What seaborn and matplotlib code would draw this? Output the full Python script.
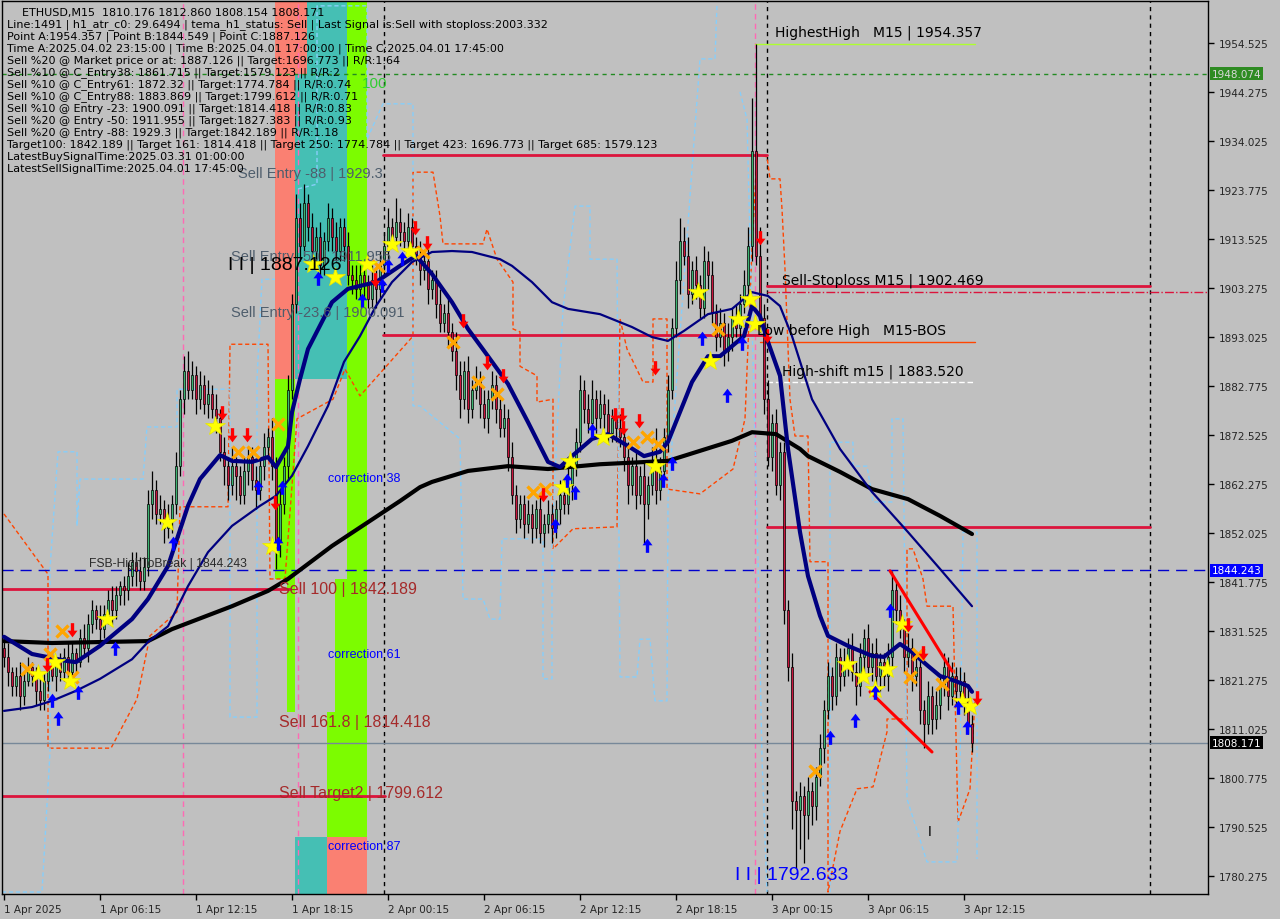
import numpy as np
import pandas as pd
import matplotlib
matplotlib.use("Agg")
import matplotlib.pyplot as plt
import seaborn as sns
from matplotlib.path import Path
from matplotlib.transforms import blended_transform_factory

# ---------------- data ----------------
first_open = 1828.0
closes = [
    1826, 1823, 1820, 1822, 1818, 1821, 1824, 1822, 1819, 1817,
    1821, 1824, 1822, 1825, 1823, 1826, 1823, 1827, 1825, 1830,
    1828, 1833, 1836, 1834, 1832, 1835, 1838, 1836, 1839, 1841,
    1840, 1843, 1846, 1844, 1842, 1845, 1858, 1861, 1856, 1857,
    1853, 1855, 1858, 1866, 1880, 1886, 1882, 1885, 1880, 1883,
    1879, 1881, 1878, 1876, 1869, 1866, 1862, 1866, 1864, 1860,
    1865, 1868, 1863, 1861, 1866, 1870, 1872, 1866, 1850, 1858,
    1866, 1882, 1900, 1918, 1912, 1921, 1916, 1911, 1914, 1908,
    1913, 1918, 1914, 1911, 1916, 1912, 1906, 1905, 1903, 1906,
    1904, 1901, 1905, 1903, 1908, 1912, 1916, 1914, 1917, 1915,
    1913, 1916, 1912, 1910, 1907, 1909, 1903, 1905, 1900, 1896,
    1898, 1894, 1890, 1885, 1880, 1886, 1878, 1882, 1884, 1879,
    1876, 1880, 1883, 1878, 1874, 1876, 1868, 1860, 1855, 1858,
    1854, 1856, 1853, 1857, 1852, 1854, 1856, 1853, 1857, 1860,
    1858, 1862, 1866, 1871, 1882, 1878, 1875, 1880, 1876, 1879,
    1877, 1873, 1876, 1874, 1872, 1868, 1862, 1866, 1860, 1864,
    1858, 1862, 1866, 1861, 1865, 1872, 1882, 1895, 1905, 1913,
    1910, 1902, 1907, 1904, 1899, 1909, 1906, 1898, 1893, 1896,
    1890, 1893, 1897, 1895, 1900, 1904, 1912, 1932, 1910, 1897,
    1880, 1868, 1875, 1862, 1869, 1836, 1824, 1796, 1794, 1797,
    1793, 1798, 1795, 1801, 1807, 1815, 1822, 1818, 1826, 1822,
    1825, 1828, 1823, 1820, 1826, 1830, 1824, 1827, 1822, 1825,
    1822, 1826, 1840, 1836, 1832, 1826, 1828, 1822, 1824, 1815,
    1812, 1818, 1813, 1816, 1820, 1824, 1818, 1822, 1819, 1821,
    1817, 1812, 1808.171]
upper_wick = [
    2, 3, 1, 2, 3, 2, 2, 1, 2, 3,  2, 2, 3, 1, 2, 2, 3, 2, 1, 2,
    3, 2, 2, 1, 3, 2, 2, 3, 2, 1,  2, 3, 2, 2, 3, 2, 3, 4, 2, 3,
    2, 3, 2, 3, 2, 3, 4, 3, 2, 3,  2, 3, 2, 3, 2, 3, 2, 4, 2, 2,
    3, 2, 2, 3, 2, 3, 2, 4, 2, 3,  2, 3, 2, 5, 3, 4, 2, 3, 2, 3,
    2, 3, 2, 3, 2, 2, 3, 2, 3, 2,  3, 2, 3, 2, 3, 3, 4, 2, 5, 3,
    2, 3, 2, 2, 3, 2, 3, 2, 2, 3,  2, 3, 2, 4, 3, 2, 3, 2, 3, 2,
    3, 2, 3, 2, 2, 3, 2, 3, 2, 2,  2, 3, 2, 2, 3, 2, 3, 2, 2, 3,
    3, 4, 2, 3, 3, 2, 3, 4, 2, 3,  2, 3, 2, 2, 3, 2, 3, 2, 3, 2,
    3, 2, 4, 8, 3, 2, 3, 2, 4, 5,  3, 4, 2, 3, 2, 3, 2, 3, 2, 3,
    2, 3, 2, 3, 2, 3, 4, 11, 22.357, 6,  3, 4, 2, 3, 2, 2, 2, 3, 2, 3,
    2, 3, 2, 2, 3, 2, 3, 2, 3, 2,  3, 2, 3, 2, 3, 2, 3, 2, 3, 2,
    2, 3, 4, 2, 3, 2, 3, 2, 2, 3,  2, 3, 2, 3, 2, 3, 2, 3, 2, 3,
    2, 3, 2]
lower_wick = [
    2, 3, 2, 2, 3, 2, 1, 2, 3, 2,  2, 2, 1, 3, 2, 2, 3, 2, 2, 1,
    2, 3, 2, 2, 3, 2, 2, 3, 2, 2,  3, 2, 2, 3, 2, 2, 2, 3, 2, 2,
    3, 2, 3, 2, 2, 3, 2, 2, 3, 2,  2, 3, 2, 3, 2, 4, 3, 2, 5, 2,
    2, 3, 2, 4, 2, 3, 2, 3, 5.451, 3,  2, 3, 2, 2, 3, 2, 3, 2, 3, 2,
    2, 2, 3, 2, 2, 3, 2, 3, 2, 2,  3, 2, 2, 4, 2, 2, 3, 2, 2, 3,
    2, 3, 2, 2, 3, 2, 3, 2, 3, 2,  2, 3, 2, 3, 4, 2, 3, 2, 2, 3,
    2, 3, 2, 3, 2, 2, 3, 2, 3, 2,  3, 2, 3, 2, 2, 3, 2, 3, 2, 3,
    2, 2, 3, 2, 2, 3, 2, 2, 3, 2,  3, 2, 2, 3, 2, 3, 4, 2, 3, 2,
    8, 3, 2, 3, 2, 2, 3, 2, 2, 3,  2, 3, 2, 3, 2, 2, 3, 2, 3, 2,
    3, 2, 3, 2, 3, 2, 2, 3, 2, 3,  3, 2, 3, 2, 3, 3, 3, 6, 12, 8,
    10, 5, 4, 3, 2, 3, 2, 3, 2, 3,  2, 3, 2, 4, 2, 3, 2, 3, 2, 3,
    2, 3, 2, 3, 2, 3, 2, 3, 2, 3,  5, 2, 3, 2, 3, 2, 3, 2, 3, 2,
    3, 2, 2]

# moving averages (vertices)
slow_ma_bar = [0, 12, 24, 36, 42, 57, 66, 71, 82, 99, 104, 107, 116, 126, 136, 149, 166, 174, 182,
               187, 193, 199, 201, 209, 217, 226, 234, 242]
slow_ma_val = [1829.4, 1829.0, 1829.2, 1829.4, 1831.9, 1836.7, 1839.9, 1842.4, 1849.3, 1858.7, 1861.6,
               1862.7, 1865.0, 1866.0, 1865.4, 1866.4, 1867.1, 1869.2, 1871.3, 1873.1, 1872.7, 1869.6,
               1868.1, 1864.8, 1861.2, 1859.1, 1855.6, 1851.8]
fast_ma_bar = [0, 7, 16, 18, 24, 32, 36, 41, 46, 49, 54, 57, 62, 66, 68, 71, 72, 74, 76, 82, 86, 91, 93,
               99, 103, 107, 112, 116, 121, 126, 131, 136, 139, 142, 147, 151, 156, 160, 164, 166, 170,
               172, 176, 179, 182, 185, 187, 189, 191, 194, 196, 199, 201, 204, 206, 211, 217, 220, 224,
               227, 231, 234, 238, 241, 242]
fast_ma_val = [1830.3, 1826.7, 1825.2, 1825.0, 1828.4, 1834.0, 1838.2, 1845.1, 1857.7, 1863.3, 1868.3,
               1867.1, 1866.9, 1867.9, 1865.8, 1870.2, 1877.3, 1884.2, 1890.5, 1900.3, 1903.1, 1904.1,
               1904.5, 1907.9, 1910.0, 1906.2, 1900.3, 1894.7, 1889.0, 1883.2, 1875.2, 1866.9, 1865.8,
               1868.1, 1871.7, 1872.7, 1870.2, 1868.1, 1869.0, 1871.1, 1879.4, 1883.6, 1889.0, 1889.0,
               1891.1, 1893.2, 1899.5, 1897.4, 1892.0, 1884.9, 1869.6, 1852.2, 1843.0, 1834.7, 1830.5,
               1828.4, 1826.3, 1826.1, 1828.8, 1827.1, 1824.2, 1822.1, 1821.0, 1820.0, 1818.8]
mid_ma_bar = [0, 7, 12, 18, 24, 32, 36, 41, 46, 51, 57, 64, 68, 72, 76, 81, 85, 89, 93, 97, 102, 107,
              112, 117, 124, 127, 132, 137, 141, 149, 157, 162, 166, 170, 176, 182, 187, 191, 194, 197,
              202, 209, 217, 226, 234, 242]
mid_ma_val = [1814.8, 1815.6, 1816.9, 1819.0, 1821.5, 1825.6, 1829.2, 1832.5, 1840.9, 1848.0, 1853.5,
              1857.7, 1859.8, 1864.0, 1870.2, 1878.6, 1887.8, 1893.2, 1899.5, 1904.5, 1908.7, 1910.8,
              1911.0, 1910.8, 1909.3, 1907.9, 1904.5, 1900.3, 1898.9, 1897.8, 1895.1, 1893.0, 1892.2,
              1894.3, 1897.8, 1898.9, 1902.4, 1901.6, 1899.5, 1893.2, 1880.0, 1869.6, 1860.6, 1852.2,
              1844.5, 1836.7]

# step channels
orange_bar = [0, 11, 11, 26.75, 33.25, 36.5, 43.25, 44, 56, 56.5, 66, 66.5, 70.25, 73.25, 82.25, 85.25,
              89, 102.25, 102.25, 107.25, 109, 109.75, 119.75, 120.75, 123.25, 127.25, 127.25, 129, 129,
              133.25, 133.25, 137.25, 137.25, 142.25, 153.25, 154, 155.75, 159.75, 162.25, 162.25,
              165.75, 165.75, 174, 182.25, 185.25, 187, 188.25, 190.75, 191.5, 194, 194.5, 195.25,
              196.5, 197.75, 201, 201.5, 206, 206, 209, 213.25, 217.25, 220.75, 220.75, 225.75, 225.75,
              227.25, 229.75, 230.75, 237.25, 238.5, 241.5, 242.75]
orange_val = [1856.0, 1843.4, 1807.0, 1807.0, 1817.3, 1830.5, 1835.5, 1857.5, 1857.5, 1891.5, 1891.5,
              1842.4, 1842.4, 1875.9, 1880.0, 1886.3, 1880.7, 1893.2, 1927.5, 1927.5, 1918.3, 1912.5,
              1912.5, 1915.6, 1909.3, 1904.5, 1894.7, 1894.1, 1886.9, 1884.9, 1879.4, 1880.0, 1848.7,
              1852.9, 1853.3, 1896.8, 1890.5, 1883.6, 1883.6, 1896.8, 1896.8, 1861.2, 1860.2, 1865.4,
              1875.9, 1911.4, 1931.3, 1930.7, 1926.1, 1926.1, 1919.8, 1907.2, 1880.0, 1872.3, 1872.3,
              1846.0, 1846.0, 1776.9, 1789.6, 1798.5, 1798.9, 1810.4, 1813.1, 1813.1, 1848.7, 1848.7,
              1842.4, 1836.7, 1836.7, 1791.5, 1798.5, 1817.3]
blue1_bar = [-0.5, 9.5, 11.5, 11.5, 13.5, 18.25, 18.25, 19, 34.75, 35.75, 43.25, 43.25, 56.5, 56.5,
             63.25, 63.25, 64.5, 67.75]
blue1_val = [1776.9, 1776.9, 1806.2, 1844.5, 1869.0, 1869.0, 1853.5, 1863.3, 1863.3, 1874.2, 1874.2,
             1882.1, 1882.1, 1813.5, 1813.5, 1884.2, 1905.1, 1905.1]
blue2_bar = [73.5, 78.25, 78.25, 90.75, 90.75, 94.75, 102.25, 102.25, 104, 114, 114.75, 119.75, 121.5,
             124, 124.5, 134.75, 134.75, 137, 137, 139.75, 142.75, 146.5, 146.5, 153.25, 154, 158.25,
             159, 161.5, 162.75, 165.75, 166, 174, 177.75, 178.25]
blue2_val = [1924.0, 1925.0, 1962.3, 1962.3, 1934.4, 1941.8, 1941.8, 1878.6, 1878.6, 1871.7, 1838.2,
             1838.2, 1834.0, 1834.0, 1850.8, 1850.8, 1821.5, 1821.5, 1850.8, 1898.9, 1920.4, 1920.4,
             1909.3, 1909.3, 1821.9, 1821.9, 1829.8, 1829.8, 1816.9, 1816.9, 1859.1, 1951.2, 1951.2,
             1962.7]
blue3_bar = [184, 185.75, 188.5, 189.5, 190.75]
blue3_val = [1944.3, 1938.6, 1846.6, 1804.7, 1776.9]
blue4_bar = [206.5, 206.5, 212.25, 212.25, 215.75, 217.25, 222, 222, 224.75, 225.75, 230.75, 238.25,
             239, 239.75, 243.25, 243.25]
blue4_val = [1775.4, 1871.0, 1871.0, 1866.0, 1866.0, 1858.5, 1858.5, 1875.9, 1875.9, 1796.4, 1783.2,
             1783.2, 1803.3, 1852.2, 1852.2, 1783.8]

# signal markers
star_bar = [8.5, 12.75, 16.5, 25.75, 40.75, 52.75, 67, 77.25, 82.75, 90.75, 97, 101.5, 141.5, 139.75,
            149.75, 162.75, 173.5, 176.5, 183.5, 186.5, 187.75, 210.75, 214.75, 217.75, 220.75, 224.5,
            239.5, 241.5]
star_val = [1822.5, 1825.0, 1821.0, 1834.0, 1854.3, 1874.4, 1849.3, 1908.3, 1905.6, 1908.3, 1912.5,
            1911.0, 1867.1, 1861.6, 1872.1, 1866.0, 1902.4, 1888.0, 1896.8, 1901.0, 1895.7, 1824.6,
            1822.1, 1819.4, 1823.6, 1833.0, 1816.9, 1815.8]
cross_bar = [5.75, 11.5, 14.5, 17, 58.5, 62.25, 68.5, 93.5, 104.75, 112.25, 118.5, 123.25, 132.25,
             135.25, 157.25, 160.75, 163.5, 178.5, 202.75, 226.5, 228.5, 234.5]
cross_val = [1823.6, 1826.7, 1831.5, 1821.9, 1869.0, 1869.0, 1874.8, 1907.9, 1910.8, 1892.0, 1883.6,
             1881.1, 1860.6, 1861.2, 1871.1, 1872.1, 1870.6, 1894.7, 1802.2, 1821.9, 1826.7, 1820.4]
sell_arrow_bar = [10.75, 17, 54.5, 57, 60.75, 67.75, 92.75, 102.75, 105.75, 114.75, 120.75, 124.75,
                  134.75, 152.75, 154.5, 154.75, 158.75, 162.75, 189, 190.75, 226, 229.75, 243.25]
sell_arrow_val = [1824.2, 1831.5, 1876.9, 1872.3, 1872.3, 1858.1, 1904.7, 1915.6, 1912.5, 1896.2,
                  1887.4, 1884.6, 1859.8, 1876.5, 1876.5, 1873.8, 1875.2, 1886.3, 1913.5, 1893.0,
                  1832.6, 1826.7, 1817.3]
buy_arrow_bar = [13.5, 12, 18.5, 27.75, 42.25, 63.5, 69.5, 68.5, 78.5, 89.5, 94.5, 96, 99.5, 137.75,
                 140.75, 142.75, 147, 160.75, 164.75, 167, 174.5, 180.75, 184.5, 206.5, 212.75, 221.5,
                 217.75, 240.75, 238.5]
buy_arrow_val = [1813.5, 1817.3, 1819.0, 1828.2, 1850.1, 1861.9, 1861.9, 1850.1, 1905.6, 1901.0,
                 1904.1, 1908.3, 1909.7, 1853.9, 1863.3, 1860.8, 1873.8, 1849.7, 1863.3, 1866.9,
                 1893.0, 1881.1, 1892.0, 1809.5, 1813.1, 1836.1, 1819.0, 1811.6, 1815.8]

# wedge trendlines
wedge_upper_bar = [221.5, 237.0]
wedge_upper_val = [1844.1, 1823.1]
wedge_lower_bar = [216.5, 232.0]
wedge_lower_val = [1818.8, 1806.2]

# axis labels
date_tick_bars = [0, 24, 48, 72, 96, 120, 144, 168, 192, 216, 240]
date_labels = ["1 Apr 2025", "1 Apr 06:15", "1 Apr 12:15", "1 Apr 18:15", "2 Apr 00:15", "2 Apr 06:15",
               "2 Apr 12:15", "2 Apr 18:15", "3 Apr 00:15", "3 Apr 06:15", "3 Apr 12:15"]
price_ticks = [1780.275, 1790.525, 1800.775, 1811.025, 1821.275, 1831.525, 1841.775, 1852.025,
               1862.275, 1872.525, 1882.775, 1893.025, 1903.275, 1913.525, 1923.775, 1934.025,
               1944.275, 1954.525]

info_lines = [
    "Line:1491 | h1_atr_c0: 29.6494 | tema_h1_status: Sell | Last Signal is:Sell with stoploss:2003.332",
    "Point A:1954.357 | Point B:1844.549 | Point C:1887.126",
    "Time A:2025.04.02 23:15:00 | Time B:2025.04.01 17:00:00 | Time C:2025.04.01 17:45:00",
    "Sell %20 @ Market price or at: 1887.126 || Target:1696.773 || R/R:1.64",
    "Sell %10 @ C_Entry38: 1861.715 || Target:1579.123 || R/R:2",
    "Sell %10 @ C_Entry61: 1872.32 || Target:1774.784 || R/R:0.74",
    "Sell %10 @ C_Entry88: 1883.869 || Target:1799.612 || R/R:0.71",
    "Sell %10 @ Entry -23: 1900.091 || Target:1814.418 || R/R:0.83",
    "Sell %20 @ Entry -50: 1911.955 || Target:1827.383 || R/R:0.93",
    "Sell %20 @ Entry -88: 1929.3 || Target:1842.189 || R/R:1.18",
    "Target100: 1842.189 || Target 161: 1814.418 || Target 250: 1774.784 || Target 423: 1696.773 || Target 685: 1579.123",
    "LatestBuySignalTime:2025.03.31 01:00:00",
    "LatestSellSignalTime:2025.04.01 17:45:00",
]
title_line = "ETHUSD,M15  1810.176 1812.860 1808.154 1808.171"

# ---------------- style ----------------
BG = "#c0c0c0"
sns.set_theme(style="white", rc={"axes.facecolor": BG, "figure.facecolor": BG})
plt.rcParams["font.family"] = ["DejaVu Sans"]

fig = plt.figure(figsize=(12.8, 9.2), dpi=100)
ax = fig.add_axes([2 / 1280, 25 / 920, 1206 / 1280, 893 / 920])
ax.set_facecolor(BG)
XMIN, XMAX = -0.5, 301
YMIN, YMAX = 1776.49, 1963.31
ax.set_xlim(XMIN, XMAX)
ax.set_ylim(YMIN, YMAX)

# ---------------- zones ----------------
SALMON, TEAL, LGREEN = "#fa8072", "#45bfb4", "#7cfc00"
zones = [
    (67.75, 72.75, 1884.2, YMAX, SALMON),
    (72.75, 85.75, 1884.2, YMAX, TEAL),
    (72.75, 75.75, 1948.1, YMAX, SALMON),
    (85.75, 90.75, 1788.4, YMAX, LGREEN),
    (67.75, 72.75, 1842.4, 1884.2, LGREEN),
    (70.75, 72.75, 1814.6, 1842.4, LGREEN),
    (82.75, 85.75, 1814.6, 1842.4, LGREEN),
    (80.75, 85.75, 1788.4, 1814.6, LGREEN),
    (72.75, 80.75, YMIN, 1788.4, TEAL),
    (80.75, 90.75, YMIN, 1788.4, SALMON),
]
for x0, x1, y0, y1, c in zones:
    ax.fill_between([x0, x1], [y0, y0], [y1, y1], color=c, lw=0, zorder=0.5)

# ---------------- vertical lines ----------------
for b in [95, 190.75, 286.5]:
    ax.axvline(b, color="black", lw=1, ls=(0, (3, 3)), zorder=1)
for b in [44.75, 73.5, 187.75]:
    ax.axvline(b, color="#ff69b4", lw=1, ls=(0, (4, 3)), zorder=1)

# ---------------- channels ----------------
ax.plot(orange_bar, orange_val, color="#ff4500", lw=1, ls=(0, (3, 2)), zorder=1.2)
for bx, by in [(blue1_bar, blue1_val), (blue2_bar, blue2_val), (blue3_bar, blue3_val), (blue4_bar, blue4_val)]:
    ax.plot(bx, by, color="#87cefa", lw=1, ls=(0, (3, 2)), zorder=1.2)

# ---------------- horizontal levels ----------------
CRIM = "#dc143c"
levels = [
    (1931.1, 94.75, 190.75, CRIM, 2.0, "-"),
    (1893.4, 94.75, 190.75, CRIM, 2.0, "-"),
    (1903.7, 190.75, 286.5, CRIM, 2.0, "-"),
    (1902.469, 190.75, XMAX, CRIM, 1.0, "-."),
    (1891.97, 189, 242.75, "#ff4500", 1.0, "-"),
    (1883.52, 190.75, 242.75, "#ffffff", 1.0, (0, (4, 2))),
    (1954.357, 187.75, 242.75, "#adff2f", 1.0, "-"),
    (1853.3, 190.75, 286.5, CRIM, 2.0, "-"),
    (1840.3, XMIN, 71.5, CRIM, 2.0, "-"),
    (1797.0, XMIN, 95.25, CRIM, 2.0, "-"),
]
for y, x0, x1, c, lw, ls in levels:
    ax.plot([x0, x1], [y, y], color=c, lw=lw, ls=ls, zorder=1.5)
ax.axhline(1948.074, color="#228b22", lw=1, ls=(0, (3, 3)), zorder=1.5)
ax.axhline(1844.243, color="#0000cd", lw=1, ls=(0, (8, 5)), zorder=1.5)
ax.axhline(1808.171, color="#778899", lw=1, zorder=1.5)

# ---------------- candles ----------------
n = len(closes)
bars = np.arange(n)
opens = np.array([first_open] + closes[:-1], dtype=float)
cl = np.array(closes, dtype=float)
hi = np.maximum(opens, cl) + np.array(upper_wick, dtype=float)
lo = np.minimum(opens, cl) - np.array(lower_wick, dtype=float)
ax.vlines(bars, lo, hi, color="black", lw=0.9, zorder=2)
up = cl >= opens
body_bottom = np.minimum(opens, cl)
body_h = np.maximum(np.abs(cl - opens), 0.25)
ax.bar(bars[up], body_h[up], bottom=body_bottom[up], width=0.7, color="#3cb371",
       edgecolor="black", lw=0.5, zorder=2.1)
ax.bar(bars[~up], body_h[~up], bottom=body_bottom[~up], width=0.7, color="#c8143c",
       edgecolor="black", lw=0.5, zorder=2.1)

# ---------------- moving averages ----------------
sns.lineplot(x=slow_ma_bar, y=slow_ma_val, ax=ax, color="black", lw=3, zorder=3)
sns.lineplot(x=mid_ma_bar, y=mid_ma_val, ax=ax, color="#000080", lw=1.6, zorder=3)
sns.lineplot(x=fast_ma_bar, y=fast_ma_val, ax=ax, color="#000080", lw=3, zorder=3.1)

# wedge
ax.plot(wedge_upper_bar, wedge_upper_val, color="#ff0000", lw=2.2, zorder=3.2)
ax.plot(wedge_lower_bar, wedge_lower_val, color="#ff0000", lw=2.2, zorder=3.2)

# ---------------- markers ----------------
down_arrow = Path([(-0.2, 1), (0.2, 1), (0.2, 0.1), (0.6, 0.1), (0, -0.7), (-0.6, 0.1), (-0.2, 0.1), (-0.2, 1)],
                  [Path.MOVETO] + [Path.LINETO] * 6 + [Path.CLOSEPOLY])
up_arrow = Path([(-0.2, -1), (0.2, -1), (0.2, -0.1), (0.6, -0.1), (0, 0.7), (-0.6, -0.1), (-0.2, -0.1), (-0.2, -1)],
                [Path.MOVETO] + [Path.LINETO] * 6 + [Path.CLOSEPOLY])
ax.plot(cross_bar, cross_val, ls="none", marker="x", ms=8, mew=2.4, color="#ffa500", zorder=4)
ax.plot(star_bar, star_val, ls="none", marker="*", ms=15, color="#ffff00", mec="#e6e600", mew=0.5, zorder=4.1)
ax.plot(sell_arrow_bar, sell_arrow_val, ls="none", marker=down_arrow, ms=12, color="#ff0000", mew=0, zorder=4.2)
ax.plot(buy_arrow_bar, buy_arrow_val, ls="none", marker=up_arrow, ms=12, color="#0000ff", mew=0, zorder=4.2)

# ---------------- chart texts ----------------
LS = ["Liberation Sans", "DejaVu Sans"]
GRAYTXT = "#4e5d6c"
BROWN = "#a52a2a"
chart_texts = [
    (89.5, 1946.2, "100", "#32cd32", 11, LS),
    (58.5, 1927.3, "Sell Entry -88 | 1929.3", GRAYTXT, 10.5, LS),
    (56.75, 1910.0, "Sell Entry -50 | 1911.955", GRAYTXT, 10.5, LS),
    (56.0, 1908.1, "I I | 1887.126", "black", 14, LS),
    (56.75, 1898.2, "Sell Entry -23.6 | 1900.091", GRAYTXT, 10.5, LS),
    (81.0, 1863.5, "correction 38", "#0000ff", 9, LS),
    (21.25, 1845.7, "FSB-HighToBreak | 1844.243", "#2b2b2b", 8.7, LS),
    (68.75, 1840.3, "Sell 100 | 1842.189", BROWN, 11.5, LS),
    (81.0, 1826.7, "correction 61", "#0000ff", 9, LS),
    (68.75, 1812.5, "Sell 161.8 | 1814.418", BROWN, 11.5, LS),
    (68.75, 1797.8, "Sell Target2 | 1799.612", BROWN, 11.5, LS),
    (81.0, 1786.5, "correction 87", "#0000ff", 9, LS),
    (192.75, 1956.8, "HighestHigh   M15 | 1954.357", "black", 10, ["DejaVu Sans"]),
    (194.5, 1904.9, "Sell-Stoploss M15 | 1902.469", "black", 10, ["DejaVu Sans"]),
    (188.25, 1894.5, "Low before High   M15-BOS", "black", 10, ["DejaVu Sans"]),
    (194.5, 1885.9, "High-shift m15 | 1883.520", "black", 10, ["DejaVu Sans"]),
    (182.75, 1780.5, "I I | 1792.633", "#0000ff", 14, LS),
    (231.0, 1789.7, "I", "black", 10, LS),
]
for bx, by, s, c, fs, fam in chart_texts:
    ax.text(bx, by, s, color=c, fontsize=fs, family=fam, ha="left", va="center", zorder=5)

# info block (fixed overlay, top-left)
fig.text(22 / 1280, 1 - 13 / 920, title_line, fontsize=8, color="black", ha="left", va="center")
for i, line in enumerate(info_lines):
    fig.text(7 / 1280, 1 - (25 + 12 * i) / 920, line, fontsize=8, color="black", ha="left", va="center")

# ---------------- axes ----------------
ax.yaxis.tick_right()
ax.set_yticks(price_ticks)
ax.set_yticklabels([f"{p:.3f}" for p in price_ticks], fontsize=7.5)
ax.set_xticks(date_tick_bars)
ax.set_xticklabels(date_labels, fontsize=7.5)
for lab in ax.get_xticklabels():
    lab.set_horizontalalignment("left")
ax.tick_params(axis="y", direction="out", length=4, width=1, color="black", pad=4, right=True, left=False)
ax.tick_params(axis="x", direction="out", length=4, width=1, color="black", pad=3, bottom=True)
for sp in ax.spines.values():
    sp.set_color("black")
    sp.set_linewidth(1)
ax.grid(False)
ax.set_xlabel("")
ax.set_ylabel("")

trans = blended_transform_factory(ax.transAxes, ax.transData)
for val, bg, fg in [(1948.074, "#2e8b22", "#d8d8d8"), (1844.243, "#0000ff", "white"), (1808.171, "black", "white")]:
    ax.text(1.003, val, f"{val:.3f}", transform=trans, fontsize=7.5, color=fg, ha="left", va="center",
            bbox=dict(boxstyle="square,pad=0.15", fc=bg, ec="none"), zorder=6, clip_on=False)

fig.savefig("out.png", dpi=100, facecolor=BG)
